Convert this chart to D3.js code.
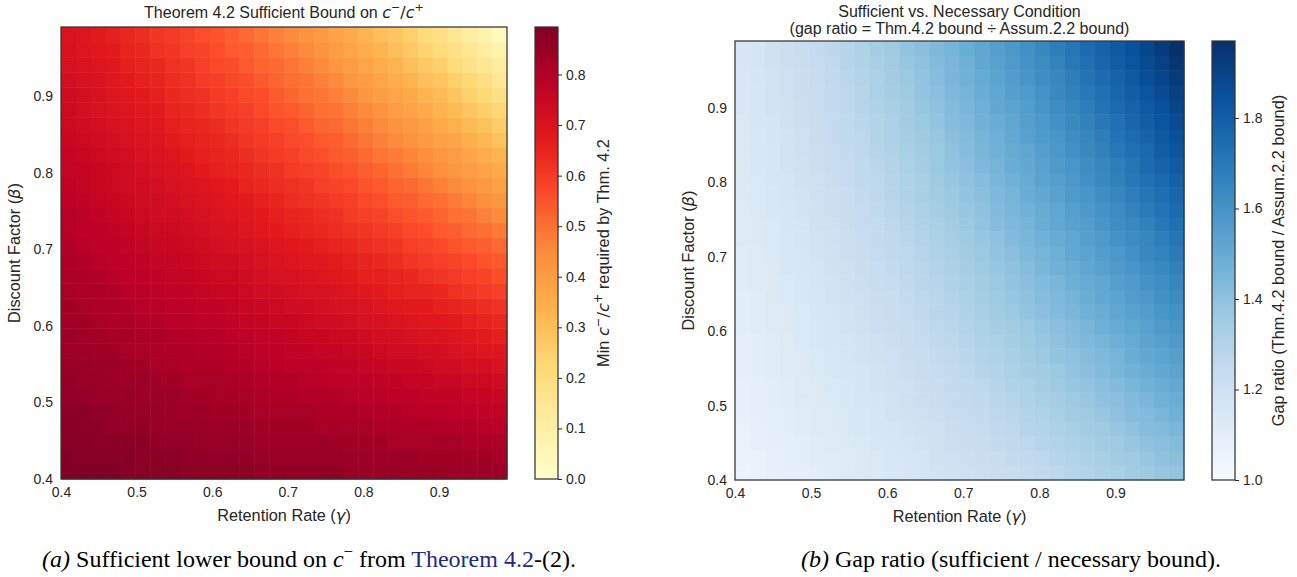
<!DOCTYPE html>
<html>
<head>
<meta charset="utf-8">
<script src="https://cdn.jsdelivr.net/npm/d3@7"></script>
<style>
  html, body { margin: 0; padding: 0; background: #ffffff; }
  svg { display: block; font-family: "Liberation Sans", Arial, sans-serif; }
</style>
</head>
<body>
<svg id="chart" width="1297" height="577"></svg>
<script>
// ---------------- data ----------------
const gammaValues = [0.400,0.420,0.441,0.461,0.481,0.502,0.522,0.542,0.563,0.583,0.603,0.624,0.644,0.664,0.685,0.705,0.726,0.746,0.766,0.787,0.807,0.827,0.848,0.868,0.888,0.909,0.929,0.949,0.970,0.990];
const betaValues  = [0.400,0.420,0.441,0.461,0.481,0.502,0.522,0.542,0.563,0.583,0.603,0.624,0.644,0.664,0.685,0.705,0.726,0.746,0.766,0.787,0.807,0.827,0.848,0.868,0.888,0.909,0.929,0.949,0.970,0.990];
const xTickValues = [0.4,0.5,0.6,0.7,0.8,0.9];
const yTickValues = [0.4,0.5,0.6,0.7,0.8,0.9];
const boundTicks = [0.0,0.1,0.2,0.3,0.4,0.5,0.6,0.7,0.8];
const gapTicks = [1.0,1.2,1.4,1.6,1.8];
const boundRange = [0.0, 0.894];
const gapRange = [1.0, 1.97];

// rows: one per beta (bottom -> top), columns: gamma (left -> right)
const boundRows = [
[.894,.89,.89,.89,.88,.88,.88,.88,.87,.87,.87,.87,.87,.86,.86,.86,.86,.86,.86,.85,.85,.85,.85,.85,.85,.85,.84,.84,.84,.84],
[.89,.88,.88,.88,.88,.87,.87,.87,.86,.86,.86,.86,.86,.85,.85,.85,.85,.85,.85,.84,.84,.84,.84,.84,.83,.83,.83,.83,.83,.82],
[.88,.88,.87,.87,.87,.87,.86,.86,.86,.85,.85,.85,.85,.84,.84,.84,.84,.84,.83,.83,.83,.83,.82,.82,.82,.82,.82,.81,.81,.81],
[.88,.87,.87,.86,.86,.86,.85,.85,.85,.85,.84,.84,.84,.83,.83,.83,.83,.82,.82,.82,.82,.81,.81,.81,.81,.80,.80,.80,.79,.79],
[.87,.87,.86,.86,.85,.85,.85,.84,.84,.84,.83,.83,.83,.82,.82,.82,.82,.81,.81,.81,.80,.80,.80,.79,.79,.79,.78,.78,.77,.77],
[.86,.86,.85,.85,.85,.84,.84,.84,.83,.83,.82,.82,.82,.81,.81,.81,.80,.80,.80,.79,.79,.79,.78,.78,.77,.77,.77,.76,.76,.75],
[.86,.85,.85,.84,.84,.84,.83,.83,.82,.82,.82,.81,.81,.80,.80,.80,.79,.79,.78,.78,.78,.77,.77,.76,.76,.75,.75,.74,.74,.73],
[.85,.85,.84,.84,.83,.83,.82,.82,.81,.81,.81,.80,.80,.79,.79,.78,.78,.78,.77,.77,.76,.76,.75,.75,.74,.73,.73,.72,.72,.71],
[.84,.84,.83,.83,.82,.82,.81,.81,.81,.80,.80,.79,.79,.78,.78,.77,.77,.76,.76,.75,.75,.74,.73,.73,.72,.72,.71,.70,.69,.69],
[.84,.83,.83,.82,.82,.81,.81,.80,.80,.79,.79,.78,.78,.77,.77,.76,.75,.75,.74,.74,.73,.72,.72,.71,.70,.70,.69,.68,.67,.66],
[.83,.83,.82,.81,.81,.80,.80,.79,.79,.78,.78,.77,.76,.76,.75,.75,.74,.73,.73,.72,.71,.71,.70,.69,.68,.68,.67,.66,.65,.64],
[.83,.82,.81,.81,.80,.79,.79,.78,.78,.77,.77,.76,.75,.75,.74,.73,.73,.72,.71,.71,.70,.69,.68,.67,.67,.66,.65,.64,.63,.62],
[.82,.81,.81,.80,.79,.79,.78,.77,.77,.76,.75,.75,.74,.73,.73,.72,.71,.71,.70,.69,.68,.67,.66,.65,.65,.64,.62,.61,.60,.59],
[.81,.81,.80,.79,.78,.78,.77,.76,.76,.75,.74,.74,.73,.72,.71,.71,.70,.69,.68,.67,.66,.66,.65,.64,.62,.61,.60,.59,.58,.56],
[.81,.80,.79,.78,.78,.77,.76,.76,.75,.74,.73,.73,.72,.71,.70,.69,.68,.68,.67,.66,.65,.64,.63,.61,.60,.59,.58,.57,.55,.54],
[.80,.79,.78,.78,.77,.76,.75,.75,.74,.73,.72,.71,.71,.70,.69,.68,.67,.66,.65,.64,.63,.62,.61,.59,.58,.57,.55,.54,.53,.51],
[.79,.78,.78,.77,.76,.75,.74,.74,.73,.72,.71,.70,.69,.68,.67,.66,.65,.64,.63,.62,.61,.60,.59,.57,.56,.54,.53,.51,.50,.48],
[.79,.78,.77,.76,.75,.74,.73,.73,.72,.71,.70,.69,.68,.67,.66,.65,.64,.63,.62,.60,.59,.58,.56,.55,.54,.52,.50,.49,.47,.45],
[.78,.77,.76,.75,.74,.73,.73,.72,.71,.70,.69,.68,.67,.66,.65,.63,.62,.61,.60,.59,.57,.56,.54,.53,.51,.50,.48,.46,.44,.42],
[.77,.76,.75,.74,.73,.73,.72,.71,.70,.69,.68,.67,.65,.64,.63,.62,.61,.59,.58,.57,.55,.54,.52,.51,.49,.47,.45,.43,.41,.39],
[.76,.76,.75,.74,.73,.72,.71,.70,.69,.67,.66,.65,.64,.63,.62,.60,.59,.58,.56,.55,.53,.52,.50,.48,.46,.44,.42,.40,.38,.36],
[.76,.75,.74,.73,.72,.71,.70,.69,.67,.66,.65,.64,.63,.61,.60,.59,.57,.56,.54,.53,.51,.49,.48,.46,.44,.42,.40,.37,.35,.33],
[.75,.74,.73,.72,.71,.70,.69,.67,.66,.65,.64,.63,.61,.60,.59,.57,.56,.54,.53,.51,.49,.47,.45,.43,.41,.39,.37,.34,.32,.29],
[.74,.73,.72,.71,.70,.69,.68,.66,.65,.64,.63,.61,.60,.59,.57,.56,.54,.52,.51,.49,.47,.45,.43,.41,.39,.36,.34,.31,.29,.26],
[.74,.72,.71,.70,.69,.68,.67,.65,.64,.63,.61,.60,.59,.57,.55,.54,.52,.50,.49,.47,.45,.43,.40,.38,.36,.33,.31,.28,.25,.23],
[.73,.72,.71,.69,.68,.67,.66,.64,.63,.62,.60,.59,.57,.56,.54,.52,.50,.49,.47,.45,.42,.40,.38,.36,.33,.31,.28,.25,.22,.19],
[.72,.71,.70,.68,.67,.66,.65,.63,.62,.60,.59,.57,.56,.54,.52,.50,.49,.47,.45,.42,.40,.38,.35,.33,.30,.28,.25,.22,.19,.15],
[.71,.70,.69,.68,.66,.65,.64,.62,.61,.59,.57,.56,.54,.52,.51,.49,.47,.45,.42,.40,.38,.35,.33,.30,.27,.25,.21,.18,.15,.12],
[.71,.69,.68,.67,.65,.64,.62,.61,.59,.58,.56,.54,.53,.51,.49,.47,.45,.43,.40,.38,.35,.33,.30,.27,.24,.21,.18,.15,.11,.08],
[.70,.69,.67,.66,.64,.63,.61,.60,.58,.56,.55,.53,.51,.49,.47,.45,.43,.41,.38,.36,.33,.30,.28,.25,.21,.18,.15,.11,.08,.04]
];

const gapRows = [
[1.06,1.07,1.08,1.09,1.09,1.10,1.11,1.12,1.13,1.14,1.15,1.16,1.17,1.18,1.19,1.20,1.21,1.22,1.23,1.25,1.26,1.27,1.29,1.30,1.32,1.33,1.35,1.36,1.38,1.39],
[1.07,1.07,1.08,1.09,1.10,1.11,1.11,1.12,1.13,1.14,1.15,1.16,1.17,1.19,1.20,1.21,1.22,1.23,1.25,1.26,1.27,1.29,1.30,1.32,1.33,1.35,1.36,1.38,1.40,1.41],
[1.07,1.08,1.09,1.09,1.10,1.11,1.12,1.13,1.14,1.15,1.16,1.17,1.18,1.19,1.21,1.22,1.23,1.25,1.26,1.27,1.29,1.30,1.32,1.33,1.35,1.36,1.38,1.40,1.41,1.43],
[1.07,1.08,1.09,1.10,1.11,1.12,1.13,1.14,1.15,1.16,1.17,1.18,1.19,1.20,1.22,1.23,1.24,1.26,1.27,1.29,1.30,1.32,1.33,1.35,1.36,1.38,1.40,1.42,1.43,1.45],
[1.08,1.09,1.09,1.10,1.11,1.12,1.13,1.14,1.15,1.16,1.18,1.19,1.20,1.21,1.23,1.24,1.25,1.27,1.28,1.30,1.31,1.33,1.35,1.36,1.38,1.40,1.42,1.43,1.45,1.47],
[1.08,1.09,1.10,1.11,1.12,1.13,1.14,1.15,1.16,1.17,1.18,1.20,1.21,1.22,1.24,1.25,1.26,1.28,1.29,1.31,1.33,1.34,1.36,1.38,1.40,1.41,1.43,1.45,1.47,1.49],
[1.08,1.09,1.10,1.11,1.12,1.13,1.14,1.15,1.17,1.18,1.19,1.20,1.22,1.23,1.24,1.26,1.27,1.29,1.31,1.32,1.34,1.36,1.38,1.39,1.41,1.43,1.45,1.47,1.49,1.51],
[1.09,1.10,1.11,1.12,1.13,1.14,1.15,1.16,1.17,1.18,1.20,1.21,1.23,1.24,1.25,1.27,1.29,1.30,1.32,1.34,1.35,1.37,1.39,1.41,1.43,1.45,1.47,1.49,1.51,1.53],
[1.09,1.10,1.11,1.12,1.13,1.14,1.15,1.17,1.18,1.19,1.20,1.22,1.23,1.25,1.26,1.28,1.30,1.31,1.33,1.35,1.37,1.39,1.40,1.42,1.44,1.46,1.49,1.51,1.53,1.55],
[1.09,1.10,1.11,1.12,1.14,1.15,1.16,1.17,1.18,1.20,1.21,1.23,1.24,1.26,1.27,1.29,1.31,1.32,1.34,1.36,1.38,1.40,1.42,1.44,1.46,1.48,1.50,1.53,1.55,1.57],
[1.10,1.11,1.12,1.13,1.14,1.15,1.16,1.18,1.19,1.21,1.22,1.23,1.25,1.27,1.28,1.30,1.32,1.34,1.35,1.37,1.39,1.41,1.43,1.45,1.48,1.50,1.52,1.54,1.57,1.59],
[1.10,1.11,1.12,1.13,1.14,1.16,1.17,1.18,1.20,1.21,1.23,1.24,1.26,1.28,1.29,1.31,1.33,1.35,1.37,1.39,1.41,1.43,1.45,1.47,1.49,1.52,1.54,1.56,1.59,1.61],
[1.10,1.11,1.13,1.14,1.15,1.16,1.18,1.19,1.20,1.22,1.23,1.25,1.27,1.28,1.30,1.32,1.34,1.36,1.38,1.40,1.42,1.44,1.46,1.49,1.51,1.53,1.56,1.58,1.61,1.63],
[1.11,1.12,1.13,1.14,1.15,1.17,1.18,1.20,1.21,1.23,1.24,1.26,1.28,1.29,1.31,1.33,1.35,1.37,1.39,1.41,1.43,1.45,1.48,1.50,1.52,1.55,1.57,1.60,1.62,1.65],
[1.11,1.12,1.13,1.15,1.16,1.17,1.19,1.20,1.22,1.23,1.25,1.27,1.28,1.30,1.32,1.34,1.36,1.38,1.40,1.42,1.45,1.47,1.49,1.52,1.54,1.57,1.59,1.62,1.64,1.67],
[1.11,1.12,1.14,1.15,1.16,1.18,1.19,1.21,1.22,1.24,1.26,1.27,1.29,1.31,1.33,1.35,1.37,1.39,1.41,1.44,1.46,1.48,1.51,1.53,1.56,1.58,1.61,1.64,1.66,1.69],
[1.12,1.13,1.14,1.15,1.17,1.18,1.20,1.21,1.23,1.25,1.26,1.28,1.30,1.32,1.34,1.36,1.38,1.40,1.43,1.45,1.47,1.50,1.52,1.55,1.57,1.60,1.63,1.65,1.68,1.71],
[1.12,1.13,1.14,1.16,1.17,1.19,1.20,1.22,1.24,1.25,1.27,1.29,1.31,1.33,1.35,1.37,1.39,1.42,1.44,1.46,1.49,1.51,1.54,1.56,1.59,1.62,1.64,1.67,1.70,1.73],
[1.12,1.14,1.15,1.16,1.18,1.19,1.21,1.23,1.24,1.26,1.28,1.30,1.32,1.34,1.36,1.38,1.40,1.43,1.45,1.47,1.50,1.52,1.55,1.58,1.60,1.63,1.66,1.69,1.72,1.75],
[1.13,1.14,1.15,1.17,1.18,1.20,1.21,1.23,1.25,1.27,1.29,1.31,1.33,1.35,1.37,1.39,1.41,1.44,1.46,1.49,1.51,1.54,1.57,1.59,1.62,1.65,1.68,1.71,1.74,1.77],
[1.13,1.14,1.16,1.17,1.19,1.20,1.22,1.24,1.26,1.27,1.29,1.31,1.33,1.36,1.38,1.40,1.42,1.45,1.47,1.50,1.53,1.55,1.58,1.61,1.64,1.67,1.70,1.73,1.76,1.79],
[1.13,1.15,1.16,1.18,1.19,1.21,1.23,1.24,1.26,1.28,1.30,1.32,1.34,1.37,1.39,1.41,1.44,1.46,1.49,1.51,1.54,1.57,1.59,1.62,1.65,1.68,1.71,1.75,1.78,1.81],
[1.14,1.15,1.16,1.18,1.20,1.21,1.23,1.25,1.27,1.29,1.31,1.33,1.35,1.37,1.40,1.42,1.45,1.47,1.50,1.52,1.55,1.58,1.61,1.64,1.67,1.70,1.73,1.76,1.80,1.83],
[1.14,1.15,1.17,1.18,1.20,1.22,1.24,1.26,1.27,1.30,1.32,1.34,1.36,1.38,1.41,1.43,1.46,1.48,1.51,1.54,1.57,1.59,1.62,1.65,1.68,1.72,1.75,1.78,1.82,1.85],
[1.14,1.16,1.17,1.19,1.21,1.22,1.24,1.26,1.28,1.30,1.32,1.35,1.37,1.39,1.42,1.44,1.47,1.49,1.52,1.55,1.58,1.61,1.64,1.67,1.70,1.73,1.77,1.80,1.84,1.87],
[1.15,1.16,1.18,1.19,1.21,1.23,1.25,1.27,1.29,1.31,1.33,1.35,1.38,1.40,1.43,1.45,1.48,1.51,1.53,1.56,1.59,1.62,1.65,1.68,1.72,1.75,1.78,1.82,1.85,1.89],
[1.15,1.16,1.18,1.20,1.22,1.23,1.25,1.27,1.29,1.32,1.34,1.36,1.39,1.41,1.44,1.46,1.49,1.52,1.55,1.57,1.60,1.64,1.67,1.70,1.73,1.77,1.80,1.84,1.87,1.91],
[1.15,1.17,1.18,1.20,1.22,1.24,1.26,1.28,1.30,1.32,1.35,1.37,1.39,1.42,1.45,1.47,1.50,1.53,1.56,1.59,1.62,1.65,1.68,1.72,1.75,1.78,1.82,1.86,1.89,1.93],
[1.16,1.17,1.19,1.21,1.22,1.24,1.26,1.29,1.31,1.33,1.35,1.38,1.40,1.43,1.45,1.48,1.51,1.54,1.57,1.60,1.63,1.66,1.70,1.73,1.77,1.80,1.84,1.87,1.91,1.95],
[1.16,1.17,1.19,1.21,1.23,1.25,1.27,1.29,1.31,1.34,1.36,1.39,1.41,1.44,1.46,1.49,1.52,1.55,1.58,1.61,1.64,1.68,1.71,1.75,1.78,1.82,1.85,1.89,1.93,1.97]
];

// ---------------- styling ----------------
const YLORRD = ["#ffffcc","#ffeda0","#fed976","#feb24c","#fd8d3c","#fc4e2a","#e31a1c","#bd0026","#800026"];
const BLUES  = ["#f7fbff","#deebf7","#c6dbef","#9ecae1","#6baed6","#4292c6","#2171b5","#08519c","#08306b"];
const TEXT = "#262626";
const SPINE = "#333333";
const TICK_FS = 14;
const LABEL_FS = 16.3;
const TITLE_FS = 16;
const MATH_FONT = "'DejaVu Sans', sans-serif";

const svg = d3.select("#chart");
const defs = svg.append("defs");

function rich(textSel, parts, fs) {
  let shift = 0;
  parts.forEach(p => {
    const ts = textSel.append("tspan").text(p.t);
    let dy = 0;
    if (p.sup) {
      dy = -0.42 * fs - shift; shift = -0.42 * fs;
      ts.attr("font-size", fs * 0.7);
    } else if (shift !== 0) {
      dy = -shift; shift = 0;
    }
    if (dy) ts.attr("dy", dy);
    if (p.it) ts.attr("font-style", "italic");
    if (p.fam) ts.attr("font-family", p.fam);
    if (p.fill) ts.attr("fill", p.fill);
  });
}

const cFrac = [
  {t: "c", it: true, fam: MATH_FONT},
  {t: "\u2212", sup: true, fam: MATH_FONT},
  {t: "/", fam: MATH_FONT},
  {t: "c", it: true, fam: MATH_FONT},
  {t: "+", sup: true, fam: MATH_FONT}
];

function drawPanel(cfg) {
  const g = svg.append("g");
  const x = d3.scaleLinear().domain([0.4, 0.99]).range([cfg.left, cfg.right]);
  const y = d3.scaleLinear().domain([0.4, 0.99]).range([cfg.bottom, cfg.top]);
  const xb = d3.scaleBand().domain(gammaValues).range([cfg.left, cfg.right]);
  const yb = d3.scaleBand().domain(betaValues).range([cfg.bottom, cfg.top]);
  const [vmin, vmax] = cfg.range;
  const stops = d3.range(cfg.colors.length).map(k => vmin + k * (vmax - vmin) / (cfg.colors.length - 1));
  const color = d3.scaleLinear().domain(stops).range(cfg.colors).interpolate(d3.interpolateRgb).clamp(true);

  const cells = cfg.rows.flatMap((row, j) => row.map((v, i) => ({g: gammaValues[i], b: betaValues[j], v})));
  g.append("g").selectAll("rect").data(cells).join("rect")
    .attr("x", d => xb(d.g))
    .attr("y", d => yb(d.b))
    .attr("width", xb.bandwidth() + 0.5)
    .attr("height", yb.bandwidth() + 0.5)
    .attr("fill", d => color(d.v));

  g.append("rect")
    .attr("x", cfg.left).attr("y", cfg.top)
    .attr("width", cfg.right - cfg.left).attr("height", cfg.bottom - cfg.top)
    .attr("fill", "none").attr("stroke", SPINE).attr("stroke-width", 1.25);

  // x axis
  const xa = g.append("g").attr("transform", `translate(0,${cfg.bottom})`)
    .call(d3.axisBottom(x).tickValues(xTickValues).tickSize(0).tickPadding(8).tickFormat(d3.format(".1f")));
  xa.select(".domain").remove();
  xa.selectAll("text").attr("font-size", TICK_FS).attr("fill", TEXT).attr("font-family", null);

  // y axis
  const ya = g.append("g").attr("transform", `translate(${cfg.left},0)`)
    .call(d3.axisLeft(y).tickValues(yTickValues).tickSize(0).tickPadding(8).tickFormat(d3.format(".1f")));
  ya.select(".domain").remove();
  ya.selectAll("text").attr("font-size", TICK_FS).attr("fill", TEXT).attr("font-family", null);

  // axis labels
  const xl = g.append("text")
    .attr("x", (cfg.left + cfg.right) / 2).attr("y", cfg.bottom + 42)
    .attr("text-anchor", "middle").attr("font-size", LABEL_FS).attr("fill", TEXT);
  rich(xl, [{t: "Retention Rate ("}, {t: "\u03b3", it: true, fam: MATH_FONT}, {t: ")"}], LABEL_FS);

  const ylx = cfg.left - 41, yly = (cfg.top + cfg.bottom) / 2;
  const yl = g.append("text")
    .attr("transform", `translate(${ylx},${yly}) rotate(-90)`)
    .attr("text-anchor", "middle").attr("font-size", LABEL_FS).attr("fill", TEXT);
  rich(yl, [{t: "Discount Factor ("}, {t: "\u03b2", it: true, fam: MATH_FONT}, {t: ")"}], LABEL_FS);

  // title
  cfg.title.forEach((parts, k) => {
    const tt = g.append("text")
      .attr("x", (cfg.left + cfg.right) / 2).attr("y", cfg.titleY[k])
      .attr("text-anchor", "middle").attr("font-size", TITLE_FS).attr("fill", TEXT);
    rich(tt, parts, TITLE_FS);
  });

  // colorbar
  const cb = d3.scaleLinear().domain([vmin, vmax]).range([cfg.bottom, cfg.top]);
  const gid = "grad-" + cfg.id;
  const grad = defs.append("linearGradient").attr("id", gid)
    .attr("x1", 0).attr("y1", 1).attr("x2", 0).attr("y2", 0);
  cfg.colors.forEach((c, k) => grad.append("stop")
    .attr("offset", k / (cfg.colors.length - 1)).attr("stop-color", c));
  g.append("rect")
    .attr("x", cfg.cbLeft).attr("y", cfg.top)
    .attr("width", cfg.cbWidth).attr("height", cfg.bottom - cfg.top)
    .attr("fill", `url(#${gid})`)
    .attr("stroke", SPINE).attr("stroke-width", 1.25);
  const ca = g.append("g").attr("transform", `translate(${cfg.cbLeft + cfg.cbWidth},0)`)
    .call(d3.axisRight(cb).tickValues(cfg.cbTicks).tickSize(4).tickPadding(4).tickFormat(d3.format(".1f")));
  ca.select(".domain").remove();
  ca.selectAll("line").attr("stroke", TEXT).attr("stroke-width", 1);
  ca.selectAll("text").attr("font-size", TICK_FS).attr("fill", TEXT).attr("font-family", null);

  const cl = g.append("text")
    .attr("transform", `translate(${cfg.cbLabelX},${(cfg.top + cfg.bottom) / 2}) rotate(-90)`)
    .attr("text-anchor", "middle").attr("font-size", LABEL_FS).attr("fill", TEXT);
  rich(cl, cfg.cbLabel, LABEL_FS);
}

drawPanel({
  id: "bound",
  left: 61, right: 507, top: 27, bottom: 479,
  rows: boundRows, range: boundRange, colors: YLORRD,
  cbLeft: 535, cbWidth: 23, cbTicks: boundTicks, cbLabelX: 609,
  title: [[{t: "Theorem 4.2 Sufficient Bound on "}, ...cFrac]],
  titleY: [18],
  cbLabel: [{t: "Min "}, ...cFrac, {t: " required by Thm. 4.2"}]
});

drawPanel({
  id: "gap",
  left: 735, right: 1184, top: 41, bottom: 480,
  rows: gapRows, range: gapRange, colors: BLUES,
  cbLeft: 1212, cbWidth: 23, cbTicks: gapTicks, cbLabelX: 1284,
  title: [[{t: "Sufficient vs. Necessary Condition"}],
          [{t: "(gap ratio = Thm.4.2 bound \u00f7 Assum.2.2 bound)"}]],
  titleY: [17, 34],
  cbLabel: [{t: "Gap ratio (Thm.4.2 bound / Assum.2.2 bound)"}]
});

// captions
const CAP_FS = 24;
const capA = svg.append("text").attr("x", 309).attr("y", 567)
  .attr("text-anchor", "middle").attr("font-family", "'Liberation Serif', 'Times New Roman', serif")
  .attr("font-size", CAP_FS).attr("fill", "#000");
rich(capA, [
  {t: "(a)", it: true},
  {t: " Sufficient lower bound on "},
  {t: "c", it: true},
  {t: "\u2212", sup: true},
  {t: " from "},
  {t: "Theorem 4.2", fill: "#1f2a80"},
  {t: "-(2)."}
], CAP_FS);

const capB = svg.append("text").attr("x", 1011).attr("y", 567)
  .attr("text-anchor", "middle").attr("font-family", "'Liberation Serif', 'Times New Roman', serif")
  .attr("font-size", CAP_FS).attr("fill", "#000");
rich(capB, [
  {t: "(b)", it: true},
  {t: " Gap ratio (sufficient / necessary bound)."}
], CAP_FS);
</script>
</body>
</html>
